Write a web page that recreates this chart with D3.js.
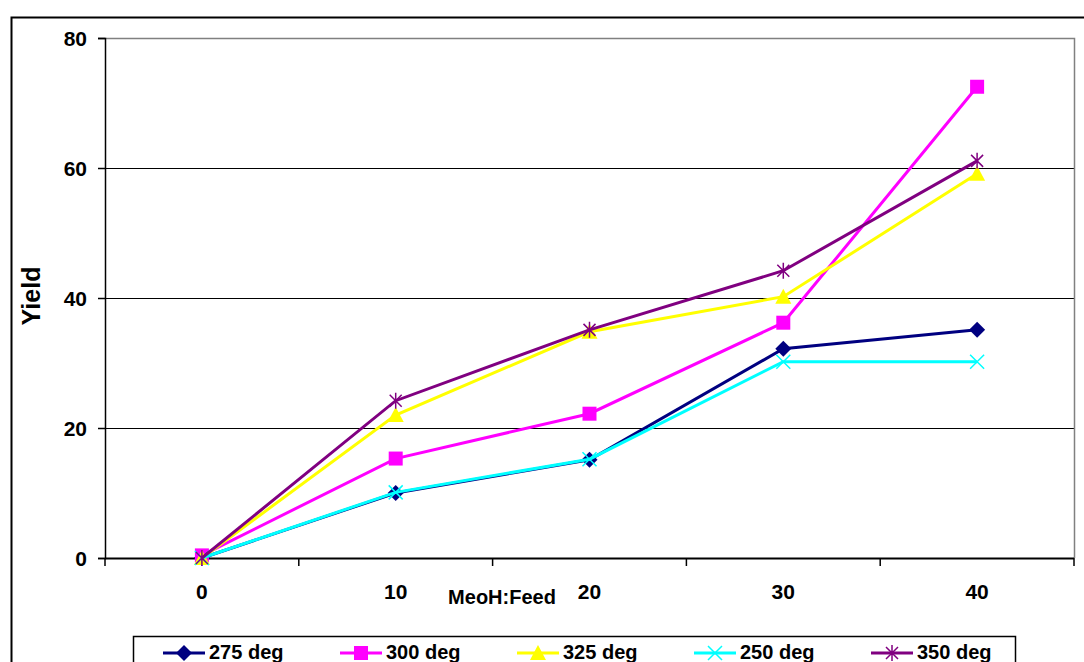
<!DOCTYPE html>
<html>
<head>
<meta charset="utf-8">
<script src="https://cdn.jsdelivr.net/npm/d3@7"></script>
<style>
  html, body { margin: 0; padding: 0; background: #fff; }
  svg { display: block; }
  svg text { font-family: "Liberation Sans", Arial, sans-serif; font-weight: bold; fill: #000; }
</style>
</head>
<body>
<svg id="chart" width="1084" height="662"></svg>
<script>
// Methanol:feed ratio categories and yields for each reaction temperature
const categories = ["0", "10", "20", "30", "40"];
const yTicks = [0, 20, 40, 60, 80];
const seriesNames = ["275 deg", "300 deg", "325 deg", "250 deg", "350 deg"];
const seriesColors = ["#000080", "#FF00FF", "#FFFF00", "#00FFFF", "#800080"];
const seriesSymbols = ["diamond", "square", "triangle", "cross", "star"];
const yield275 = [0, 10, 15.1, 32.2, 35.1];
const yield300 = [0.4, 15.3, 22.2, 36.2, 72.5];
const yield325 = [0, 22, 34.8, 40.2, 59.1];
const yield250 = [0, 10.1, 15.2, 30.2, 30.2];
const yield350 = [0, 24.2, 35.1, 44.2, 61.1];
const seriesValues = [yield275, yield300, yield325, yield250, yield350];

const svg = d3.select("#chart");
const plot = { left: 105, top: 38, right: 1074, bottom: 558 };

// Outer chart border
svg.append("rect")
  .attr("x", 11.5).attr("y", 17.5)
  .attr("width", 1200).attr("height", 700)
  .attr("fill", "none").attr("stroke", "#000").attr("stroke-width", 2);

const x = d3.scaleBand().domain(categories).range([plot.left, plot.right]);
const y = d3.scaleLinear().domain([0, 80]).range([plot.bottom, plot.top]);

// Horizontal gridlines
svg.append("g").selectAll("line")
  .data(yTicks.filter(d => d > 0 && d < 80))
  .join("line")
  .attr("x1", plot.left).attr("x2", plot.right)
  .attr("y1", d => y(d) + 0.5).attr("y2", d => y(d) + 0.5)
  .attr("stroke", "#000").attr("stroke-width", 1.2);

// Plot area frame (top and right)
svg.append("path")
  .attr("d", `M${plot.left},${plot.top + 0.5}H${plot.right + 0.5}V${plot.bottom}`)
  .attr("fill", "none").attr("stroke", "#808080").attr("stroke-width", 1.5);

// Y axis
const yAxis = svg.append("g")
  .attr("transform", `translate(${plot.left},0)`)
  .call(d3.axisLeft(y).tickValues(yTicks).tickSize(7).tickPadding(11));
yAxis.select(".domain").attr("stroke", "#000").attr("stroke-width", 1.5);
yAxis.selectAll(".tick line").attr("stroke", "#000").attr("stroke-width", 1.5);
yAxis.selectAll("text").style("font-size", "21px").attr("dy", "0.36em");

// X axis: tick marks between categories
const xAxisG = svg.append("g").attr("transform", `translate(0,${plot.bottom})`);
xAxisG.append("line")
  .attr("x1", plot.left).attr("x2", plot.right)
  .attr("y1", 0.5).attr("y2", 0.5)
  .attr("stroke", "#000").attr("stroke-width", 1.8);
const boundaries = categories.map(c => x(c)).concat([plot.right]);
xAxisG.selectAll("line.tick")
  .data(boundaries)
  .join("line").attr("class", "tick")
  .attr("x1", d => d).attr("x2", d => d)
  .attr("y1", 0).attr("y2", 8)
  .attr("stroke", "#000").attr("stroke-width", 1.5);
xAxisG.selectAll("text")
  .data(categories)
  .join("text")
  .attr("x", d => x(d) + x.bandwidth() / 2)
  .attr("y", 41)
  .attr("text-anchor", "middle")
  .style("font-size", "21px")
  .text(d => d);

// Axis titles
svg.append("text")
  .attr("x", 502).attr("y", 604)
  .attr("text-anchor", "middle").style("font-size", "20px")
  .text("MeoH:Feed");
svg.append("text")
  .attr("transform", "translate(40,296) rotate(-90)")
  .attr("text-anchor", "middle").style("font-size", "25px")
  .text("Yield");

// Marker drawing
function drawMarker(g, type, color) {
  if (type === "diamond") {
    g.append("path").attr("d", "M0,-8L8,0L0,8L-8,0Z").attr("fill", color);
  } else if (type === "square") {
    g.append("rect").attr("x", -7).attr("y", -7).attr("width", 14).attr("height", 14).attr("fill", color);
  } else if (type === "triangle") {
    g.append("path").attr("d", "M0,-8L8,7L-8,7Z").attr("fill", color);
  } else if (type === "cross") {
    g.append("path").attr("d", "M-7,-7L7,7M-7,7L7,-7").attr("stroke", color).attr("stroke-width", 1.5);
  } else if (type === "star") {
    g.append("path").attr("d", "M-6,-6L6,6M-6,6L6,-6M0,-8V8").attr("stroke", color).attr("stroke-width", 1.5);
  }
}

const cx = c => x(c) + x.bandwidth() / 2;
const line = d3.line().x((d, i) => cx(categories[i])).y(d => y(d));

seriesValues.forEach((vals, si) => {
  const g = svg.append("g");
  g.append("path")
    .attr("d", line(vals))
    .attr("fill", "none")
    .attr("stroke", seriesColors[si])
    .attr("stroke-width", 3);
  vals.forEach((v, i) => {
    const m = g.append("g").attr("transform", `translate(${cx(categories[i])},${y(v)})`);
    drawMarker(m, seriesSymbols[si], seriesColors[si]);
  });
});

// Legend
const legend = svg.append("g");
legend.append("rect")
  .attr("x", 133.5).attr("y", 636.5)
  .attr("width", 882).attr("height", 60)
  .attr("fill", "#fff").attr("stroke", "#000").attr("stroke-width", 1.5);
const legendX = [163, 340, 517, 694, 871];
seriesNames.forEach((name, si) => {
  const item = legend.append("g").attr("transform", `translate(${legendX[si]},653)`);
  item.append("line").attr("x1", 0).attr("x2", 42).attr("y1", 0).attr("y2", 0)
    .attr("stroke", seriesColors[si]).attr("stroke-width", 3);
  const m = item.append("g").attr("transform", "translate(21,0)");
  drawMarker(m, seriesSymbols[si], seriesColors[si]);
  item.append("text").attr("x", 46).attr("y", 6).style("font-size", "20px").text(name);
});
</script>
</body>
</html>
